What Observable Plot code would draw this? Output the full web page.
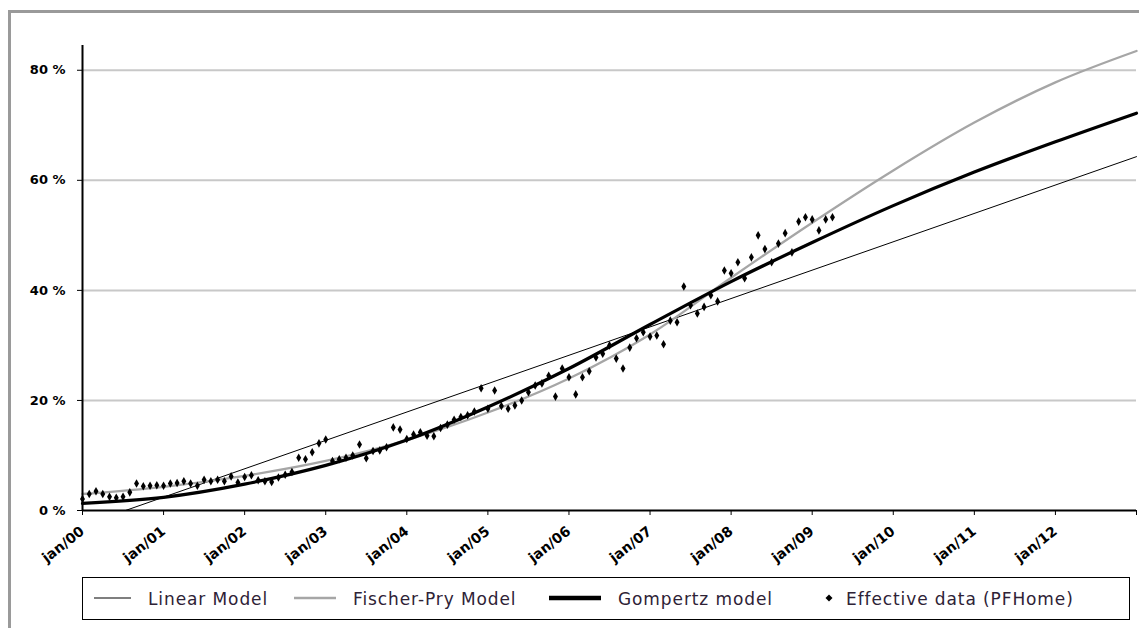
<!DOCTYPE html>
<html><head><meta charset="utf-8">
<script src="https://cdn.jsdelivr.net/npm/d3@7"></script>
<script src="https://cdn.jsdelivr.net/npm/@observablehq/plot@0.6"></script>
<style>
body{margin:0;background:#fff;}
#wrap{position:relative;width:1139px;height:628px;overflow:hidden;background:#fff;}
#frame{position:absolute;left:8px;top:10px;width:1200px;height:700px;border:3px solid #9a9a9a;}
#chart{position:absolute;left:0;top:0;}
#legend{position:absolute;left:82px;top:577px;width:1048px;height:43px;border:1.5px solid #000;box-sizing:border-box;font-family:"DejaVu Sans";font-size:17px;letter-spacing:0.9px;color:#2e2236;background:#fff;}
.item{position:absolute;top:0;height:100%;display:flex;align-items:center;white-space:nowrap;}
.sw{position:absolute;top:0;height:100%;}
</style></head>
<body>
<div id="wrap">
  <div id="frame"></div>
  <div id="chart"></div>
  <div id="legend"></div>
</div>
<script>
// ---- data (percent) ----
const modelYears = [2000,2001,2002,2003,2004,2005,2006,2007,2008,2009,2010,2011,2012,2013];
const gompertzPct = [1.3,2.4,4.8,8.2,12.8,18.8,25.8,33.8,41.6,48.7,55.4,61.5,67.0,72.2];
const fischerPryPct = [3.0,4.3,6.3,9.0,12.8,17.8,24.0,32.0,42.3,52.3,61.8,70.5,77.8,83.5];
const linearYears = [2000.53,2013];
const linearPct = [0,64.3];

// Effective data (PFHome), monthly from jan/00
const eff2000 = [2.1,3.0,3.5,3.0,2.5,2.3,2.5,3.3,4.9,4.4,4.5,4.6];
const eff2001 = [4.5,4.9,5.0,5.3,4.9,4.5,5.6,5.3,5.6,5.3,6.2,5.1];
const eff2002 = [6.1,6.4,5.5,5.3,5.2,6.0,6.5,7.0,9.6,9.3,10.6,12.2];
const eff2003 = [12.9,9.0,9.3,9.6,10.0,12.0,9.5,10.8,10.9,11.5,15.1,14.7];
const eff2004 = [13.0,13.8,14.2,13.6,13.5,15.0,15.6,16.5,17.0,17.3,18.0,22.2];
const eff2005 = [18.5,21.8,19.0,18.5,19.1,20.0,21.5,22.7,23.1,24.5,20.7,25.8];
const eff2006 = [24.2,21.1,24.2,25.3,27.8,28.5,30.0,27.6,25.8,29.6,31.3,32.4];
const eff2007 = [31.6,31.8,30.2,34.5,34.2,40.7,37.3,35.8,37.0,39.1,38.0,43.6];
const eff2008 = [43.1,45.1,42.2,46.0,50.0,47.5,45.1,48.5,50.4,46.9,52.5,53.3];
const eff2009 = [52.9,50.9,52.9,53.3];

const gridPct = [20,40,60,80];
const yTicks = [0,20,40,60,80];
const xTickYears = [2000,2001,2002,2003,2004,2005,2006,2007,2008,2009,2010,2011,2012,2013];
const xTickLabels = ["jan/00","jan/01","jan/02","jan/03","jan/04","jan/05","jan/06","jan/07","jan/08","jan/09","jan/10","jan/11","jan/12",""];

// ---- build tables ----
const gompertz = modelYears.map((x,i)=>({x, y:gompertzPct[i]}));
const fischer = modelYears.map((x,i)=>({x, y:fischerPryPct[i]}));
const linear = linearYears.map((x,i)=>({x, y:linearPct[i]}));
const effAll = [eff2000,eff2001,eff2002,eff2003,eff2004,eff2005,eff2006,eff2007,eff2008,eff2009];
const eff = [];
effAll.forEach((arr,yi)=>arr.forEach((v,m)=>eff.push({x:2000+yi+m/12, y:v})));

const chart = Plot.plot({
  width:1139, height:570,
  marginLeft:82, marginRight:3, marginTop:45, marginBottom:60,
  x:{type:"linear", domain:[2000,2013]},
  y:{domain:[0,84.5]},
  style:{fontFamily:"DejaVu Sans", fontSize:"13px", fontWeight:"bold", color:"#000", background:"transparent", overflow:"visible"},
  marks:[
    Plot.ruleY(gridPct, {stroke:"#c8c8c8", strokeWidth:2}),
    Plot.line(linear, {x:"x", y:"y", stroke:"#000", strokeWidth:1}),
    Plot.line(fischer, {x:"x", y:"y", stroke:"#a6a6a6", strokeWidth:2.3, curve:"catmull-rom"}),
    Plot.line(gompertz, {x:"x", y:"y", stroke:"#000", strokeWidth:3.2, curve:"catmull-rom"}),
    Plot.dot(eff, {x:"x", y:"y", symbol:"diamond", r:2.6, fill:"#000", stroke:"none"}),
    Plot.ruleX([2000], {y1:0, y2:84.5, stroke:"#000", strokeWidth:2}),
    Plot.ruleY([0], {stroke:"#000", strokeWidth:2}),
    Plot.axisY({ticks:yTicks, tickFormat:d=>d+" %", tickSize:5, tickPadding:12, label:null, fontSize:13}),
    Plot.axisX({ticks:xTickYears, tickFormat:(d)=>xTickLabels[xTickYears.indexOf(d)], tickRotate:-38, tickSize:5, tickPadding:14, label:null, fontSize:14})
  ]
});
document.getElementById("chart").appendChild(chart);

// ---- legend ----
const legend = document.getElementById("legend");
const items = [
  {label:"Linear Model", kind:"line", color:"#000", w:1.2, sx:11, sw:37, tx:65},
  {label:"Fischer-Pry Model", kind:"line", color:"#a6a6a6", w:2.3, sx:211, sw:42, tx:270},
  {label:"Gompertz model", kind:"line", color:"#000", w:4.5, sx:466, sw:52, tx:535},
  {label:"Effective data (PFHome)", kind:"dot", color:"#000", sx:741, sw:10, tx:763}
];
items.forEach(it=>{
  const s = document.createElementNS("http://www.w3.org/2000/svg","svg");
  s.setAttribute("class","sw");
  s.setAttribute("width", it.sw+4);
  s.setAttribute("height", 40);
  s.style.left = (it.sx-2)+"px";
  if (it.kind==="line") {
    s.innerHTML = `<line x1="2" x2="${it.sw+2}" y1="20" y2="20" stroke="${it.color}" stroke-width="${it.w}"/>`;
  } else {
    s.innerHTML = `<path d="M7,16.5L10.5,20L7,23.5L3.5,20Z" fill="#000"/>`;
  }
  legend.appendChild(s);
  const t = document.createElement("div");
  t.className="item"; t.style.left = it.tx+"px"; t.textContent = it.label;
  legend.appendChild(t);
});
</script>
</body></html>
